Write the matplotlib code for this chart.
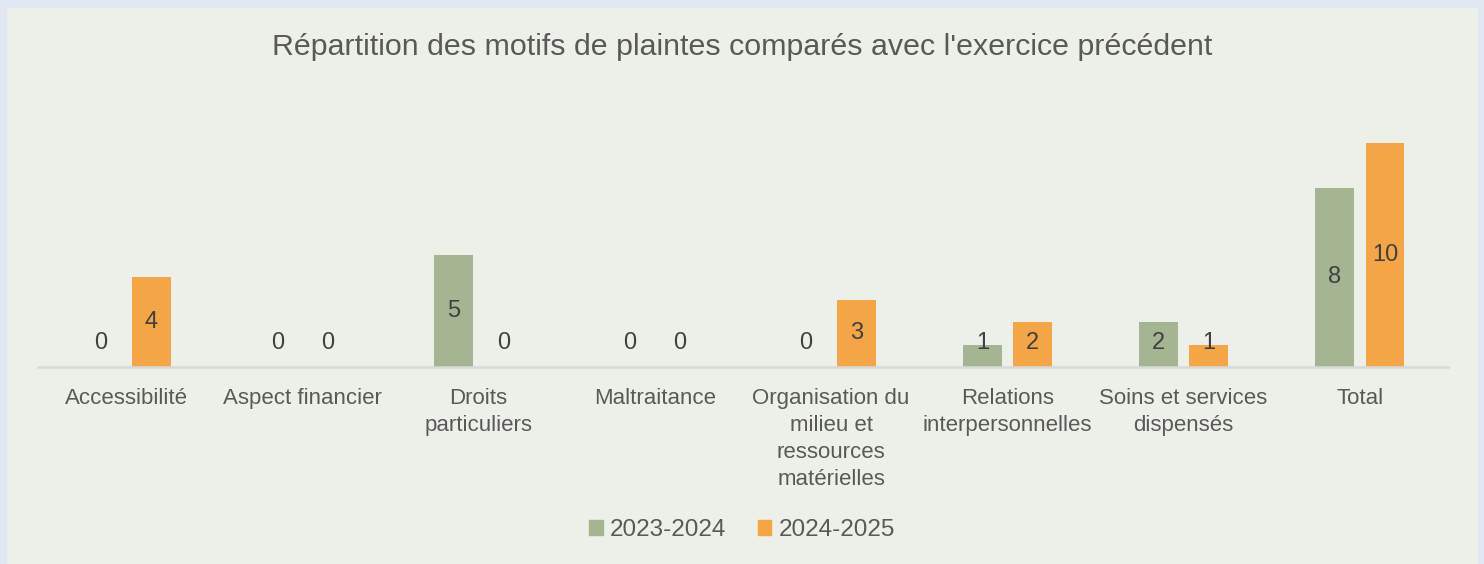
import matplotlib
matplotlib.use("Agg")
import matplotlib.pyplot as plt
import numpy as np
from matplotlib.patches import Rectangle

categories = ["Accessibilité", "Aspect financier", "Droits\nparticuliers", "Maltraitance",
              "Organisation du\nmilieu et\nressources\nmatérielles", "Relations\ninterpersonnelles",
              "Soins et services\ndispensés", "Total"]
series_names = ["2023-2024", "2024-2025"]
values_2023 = [0, 0, 5, 0, 0, 1, 2, 8]
values_2024 = [4, 0, 0, 0, 3, 2, 1, 10]

title = "Répartition des motifs de plaintes comparés avec l'exercice précédent"
colors = ["#A5B592", "#F4A646"]
text_color = "#595959"
font = "Liberation Sans"

W, H = 1484, 564
fig = plt.figure(figsize=(W / 100, H / 100), dpi=100)
fig.patch.set_facecolor("#E1E8F1")
bg = Rectangle((7 / W, 0), (1478 - 7) / W, (H - 8) / H, transform=fig.transFigure,
               facecolor="#EDF0E9", edgecolor="none", zorder=-10)
fig.add_artist(bg)

ax = fig.add_axes([38 / W, (H - 367) / H, (1448 - 38) / W, (367 - 98) / H])
ax.set_facecolor("none")
ax.set_zorder(5)
x = np.arange(len(categories))
bw = 0.22
off = 0.142
for vals, c, d in [(values_2023, colors[0], -off), (values_2024, colors[1], off)]:
    ax.bar(x + d, vals, width=bw, color=c, zorder=2)
    for xi, v in zip(x, vals):
        ax.text(xi + d, max(v / 2, 1.05), str(v), ha="center", va="center",
                fontsize=17, color="#404040", family=font, zorder=3)

ax.set_xlim(-0.5, len(categories) - 0.5)
ax.set_ylim(0, 12)
ax.set_yticks([])
ax.set_xticks(x)
ax.set_xticklabels(categories, fontsize=16, color=text_color, family=font, linespacing=1.38)
ax.tick_params(axis="x", length=0, pad=15)
for s in ["top", "right", "left"]:
    ax.spines[s].set_visible(False)
ax.spines["bottom"].set_color("#D9D9D9")
ax.spines["bottom"].set_linewidth(1.8)

fig.text(742 / W, 1 - 47 / H, title, ha="center", va="center", fontsize=21.9,
         color=text_color, family=font)

handles = [Rectangle((0, 0), 1, 1, color=c) for c in colors]
fig.legend(handles, series_names, loc="center", bbox_to_anchor=(742 / W, 1 - 530 / H),
           ncol=2, frameon=False, labelcolor=text_color,
           prop={"family": font, "size": 17.5}, handlelength=0.55, handleheight=0.55,
           handletextpad=0.3, columnspacing=1.3)

fig.savefig("out.png", dpi=100, facecolor=fig.get_facecolor())
